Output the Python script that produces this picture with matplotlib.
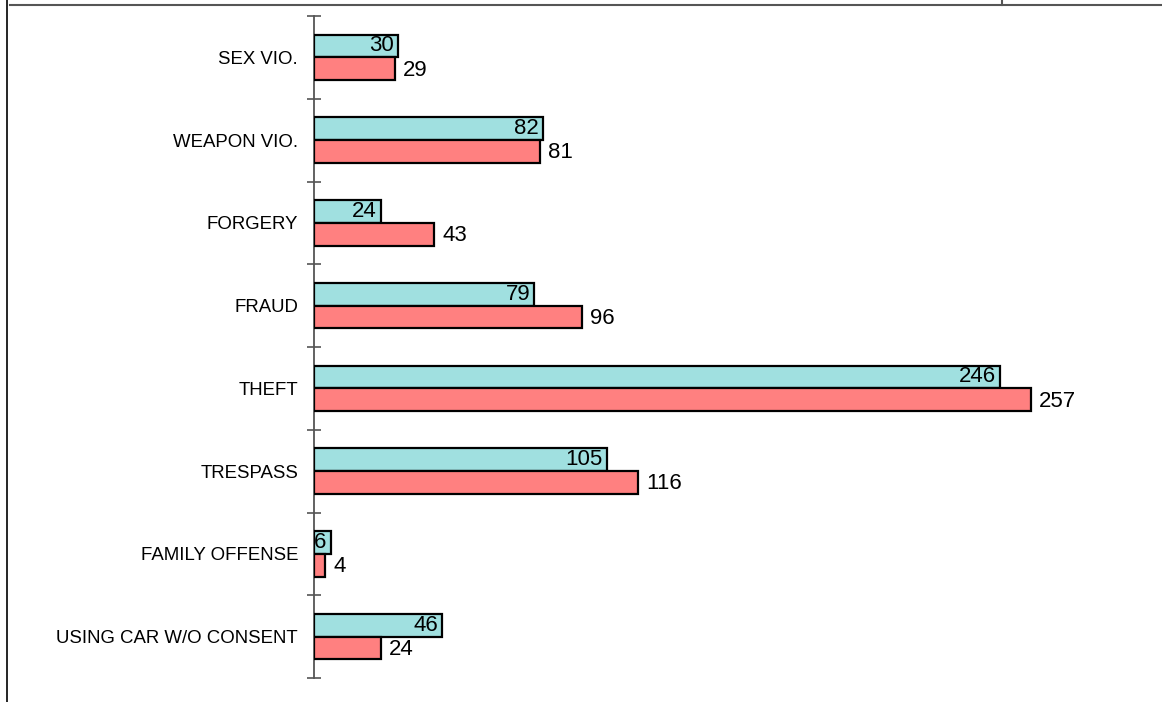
import matplotlib
matplotlib.use("Agg")
import matplotlib.pyplot as plt
from matplotlib.lines import Line2D
import numpy as np

plt.rcParams['font.family'] = ['Liberation Sans', 'DejaVu Sans']

categories = ["SEX VIO.", "WEAPON VIO.", "FORGERY", "FRAUD", "THEFT",
              "TRESPASS", "FAMILY OFFENSE", "USING CAR W/O CONSENT"]
series_a = [30, 82, 24, 79, 246, 105, 6, 46]   # teal (upper bar)
series_b = [29, 81, 43, 96, 257, 116, 4, 24]   # salmon (lower bar)

W, H = 1162, 702
fig = plt.figure(figsize=(W / 100, H / 100), dpi=100)

x0, y_top, y_bot = 314, 16, 678
xmax = 300
px_per_unit = (1031 - 314) / 257.0
ax = fig.add_axes([x0 / W, 1 - y_bot / H, xmax * px_per_unit / W, (y_bot - y_top) / H])

n = len(categories)
pos = np.arange(n)
h = 0.275
ax.barh(pos - h / 2, series_a, height=h, color="#a0e0e0", edgecolor="black", linewidth=1.6, zorder=3)
ax.barh(pos + h / 2, series_b, height=h, color="#ff8080", edgecolor="black", linewidth=1.6, zorder=3)

for i in range(n):
    ax.annotate(str(series_a[i]), xy=(series_a[i], pos[i] - h / 2), xytext=(-3, 0),
                textcoords="offset points", ha="right", va="center", fontsize=16, zorder=4)
    ax.annotate(str(series_b[i]), xy=(series_b[i], pos[i] + h / 2), xytext=(6, -1),
                textcoords="offset points", ha="left", va="center", fontsize=16, zorder=4)

ax.set_xlim(0, xmax)
ax.set_ylim(n - 0.5, -0.5)
for s in ["top", "right", "bottom"]:
    ax.spines[s].set_visible(False)
ax.spines["left"].set_color("#555555")
ax.spines["left"].set_linewidth(1.3)
ax.set_xticks([])
ax.set_yticks(pos)
ax.set_yticklabels(categories, fontsize=13.4)
ax.tick_params(axis="y", which="major", length=0, pad=11.5)
ax.set_yticks(np.arange(n + 1) - 0.5, minor=True)
ax.tick_params(axis="y", which="minor", length=10, direction="inout", color="#555555", width=1.2)
ax.set_facecolor("none")

# frame fragments
fig.add_artist(Line2D([10 / W, 1], [1 - 4.5 / H, 1 - 4.5 / H], color="#555555", lw=1.5))
fig.add_artist(Line2D([1002 / W, 1002 / W], [1, 1 - 4.5 / H], color="#555555", lw=1.5))
fig.add_artist(Line2D([6.5 / W, 6.5 / W], [0, 1], color="black", lw=1.2))

fig.savefig("out.png", dpi=100)
